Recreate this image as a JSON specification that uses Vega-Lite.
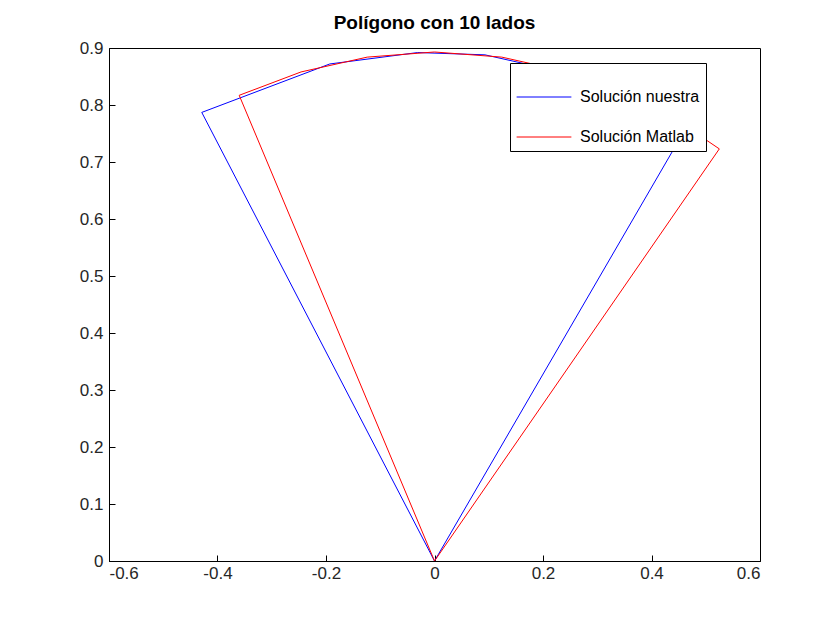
{
  "$schema": "https://vega.github.io/schema/vega-lite/v6.json",
  "width": 651,
  "height": 513,
  "autosize": "none",
  "padding": {"left": 109, "top": 48, "right": 80, "bottom": 69},
  "background": "white",
  "title": {"text": "Polígono con 10 lados", "font": "Liberation Sans", "fontSize": 19, "fontWeight": "bold", "color": "black", "offset": 6},
  "data": {"values": [
    {"s": "Solución nuestra", "i": 0, "x": 0, "y": 0},
    {"s": "Solución nuestra", "i": 1, "x": -0.429, "y": 0.787},
    {"s": "Solución nuestra", "i": 2, "x": -0.193, "y": 0.872},
    {"s": "Solución nuestra", "i": 3, "x": -0.031, "y": 0.892},
    {"s": "Solución nuestra", "i": 4, "x": 0.093, "y": 0.888},
    {"s": "Solución nuestra", "i": 5, "x": 0.276, "y": 0.849},
    {"s": "Solución nuestra", "i": 6, "x": 0.465, "y": 0.762},
    {"s": "Solución nuestra", "i": 7, "x": 0, "y": 0},
    {"s": "Solución Matlab", "i": 0, "x": 0, "y": 0},
    {"s": "Solución Matlab", "i": 1, "x": -0.36, "y": 0.817},
    {"s": "Solución Matlab", "i": 2, "x": -0.246, "y": 0.858},
    {"s": "Solución Matlab", "i": 3, "x": -0.124, "y": 0.884},
    {"s": "Solución Matlab", "i": 4, "x": 0, "y": 0.893},
    {"s": "Solución Matlab", "i": 5, "x": 0.124, "y": 0.884},
    {"s": "Solución Matlab", "i": 6, "x": 0.246, "y": 0.858},
    {"s": "Solución Matlab", "i": 7, "x": 0.363, "y": 0.816},
    {"s": "Solución Matlab", "i": 8, "x": 0.466, "y": 0.761},
    {"s": "Solución Matlab", "i": 9, "x": 0.525, "y": 0.723},
    {"s": "Solución Matlab", "i": 10, "x": 0, "y": 0}
  ]},
  "mark": {"type": "line", "strokeWidth": 1, "clip": true},
  "encoding": {
    "x": {"field": "x", "type": "quantitative", "scale": {"domain": [-0.6, 0.6], "nice": false},
      "axis": {"values": [-0.6, -0.4, -0.2, 0, 0.2, 0.4, 0.6], "labelExpr": "replace(format(datum.value, '~g'), '−', '-')", "title": null, "grid": false, "tickSize": -6, "labelPadding": 10, "labelFontSize": 17, "labelFont": "Liberation Sans", "labelColor": "#262626"}},
    "y": {"field": "y", "type": "quantitative", "scale": {"domain": [0, 0.9], "nice": false},
      "axis": {"values": [0, 0.1, 0.2, 0.3, 0.4, 0.5, 0.6, 0.7, 0.8, 0.9], "format": "~g", "title": null, "grid": false, "tickSize": -6, "labelPadding": 12, "labelFontSize": 17, "labelFont": "Liberation Sans", "labelColor": "#262626"}},
    "order": {"field": "i", "type": "quantitative"},
    "color": {"field": "s", "type": "nominal", "title": null,
      "scale": {"domain": ["Solución nuestra", "Solución Matlab"], "range": ["#0000ff", "#ff0000"]},
      "legend": {"orient": "none", "legendX": 401, "legendY": 15, "symbolType": "stroke", "symbolSize": 3000, "symbolStrokeWidth": 1,
        "labelFontSize": 16, "labelFont": "Liberation Sans", "labelColor": "black", "strokeColor": "black", "fillColor": "white",
        "padding": 6, "rowPadding": 4, "labelOffset": 8}}
  },
  "config": {
    "view": {"stroke": "black", "strokeWidth": 1},
    "axis": {"domainColor": "black", "tickColor": "black"}
  }
}
